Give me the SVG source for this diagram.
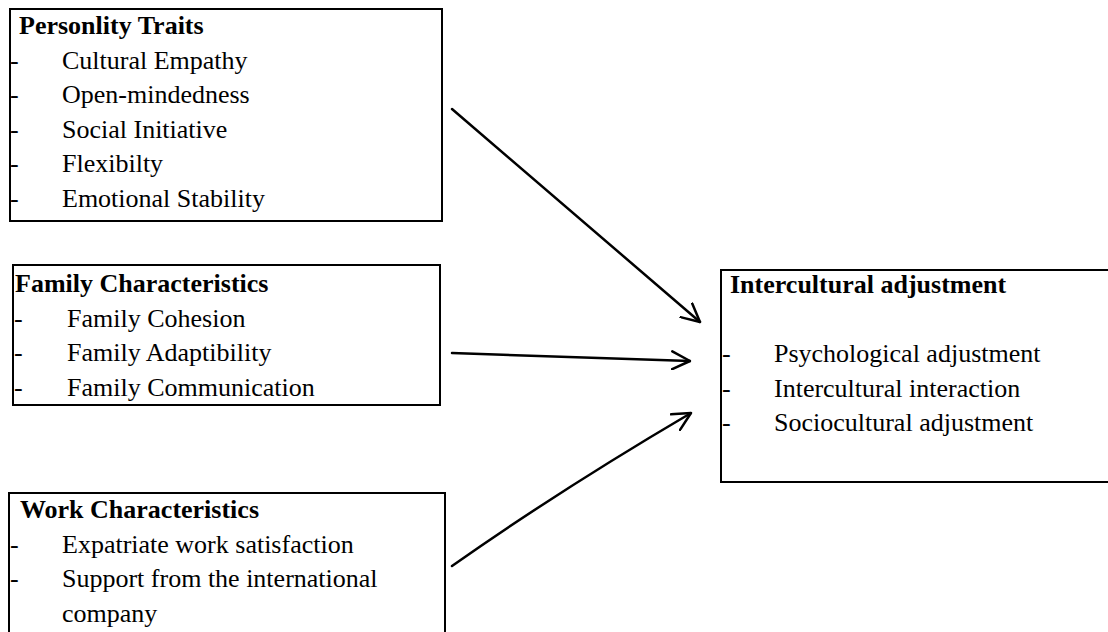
<svg xmlns="http://www.w3.org/2000/svg" width="1108" height="632" viewBox="0 0 1108 632">
<style>
.box{fill:#fff;stroke:#000;stroke-width:2}
text{font-family:"Liberation Serif","Times New Roman",serif;font-size:26px;fill:#000}
.t{font-weight:bold}
.c{fill:none;stroke:#000;stroke-width:2.5;stroke-linecap:round;stroke-linejoin:round}
</style>
<defs>
<marker id="ah" viewBox="0 0 20 20" refX="19" refY="10" markerWidth="20" markerHeight="20" markerUnits="userSpaceOnUse" orient="auto">
<path d="M1,1 L19,10 L1,19" fill="none" stroke="#000" stroke-width="2.5" stroke-linecap="round" stroke-linejoin="round"/>
</marker>
</defs>
<g id="personality">
<rect class="box" x="10" y="9" width="432" height="212"/>
<text class="t" x="19" y="34">Personlity Traits</text>
<text x="10" y="68.5">-</text><text x="62" y="68.5">Cultural Empathy</text>
<text x="10" y="103">-</text><text x="62" y="103">Open-mindedness</text>
<text x="10" y="137.5">-</text><text x="62" y="137.5">Social Initiative</text>
<text x="10" y="172">-</text><text x="62" y="172">Flexibilty</text>
<text x="10" y="206.5">-</text><text x="62" y="206.5">Emotional Stability</text>
</g>
<g id="family">
<rect class="box" x="13" y="265" width="427" height="140"/>
<text class="t" x="15" y="292">Family Characteristics</text>
<text x="14" y="326.5">-</text><text x="67" y="326.5">Family Cohesion</text>
<text x="14" y="361">-</text><text x="67" y="361">Family Adaptibility</text>
<text x="14" y="395.5">-</text><text x="67" y="395.5">Family Communication</text>
</g>
<g id="work">
<rect class="box" x="9" y="493" width="436" height="150"/>
<text class="t" x="20" y="518">Work Characteristics</text>
<text x="10" y="552.5">-</text><text x="62" y="552.5">Expatriate work satisfaction</text>
<text x="10" y="587">-</text><text x="62" y="587">Support from the international</text>
<text x="62" y="621.5">company</text>
</g>
<g id="adjustment">
<rect class="box" x="721" y="270" width="400" height="212"/>
<text class="t" x="730" y="293">Intercultural adjustment</text>
<text x="722" y="362">-</text><text x="774" y="362">Psychological adjustment</text>
<text x="722" y="396.5">-</text><text x="774" y="396.5">Intercultural interaction</text>
<text x="722" y="431">-</text><text x="774" y="431">Sociocultural adjustment</text>
</g>
<g id="connectors">
<path class="c" d="M452,109 L700,322" marker-end="url(#ah)"/>
<path class="c" d="M452,353 L690,361" marker-end="url(#ah)"/>
<path class="c" d="M452,566 Q560,490 691,413" marker-end="url(#ah)"/>
</g>
</svg>
